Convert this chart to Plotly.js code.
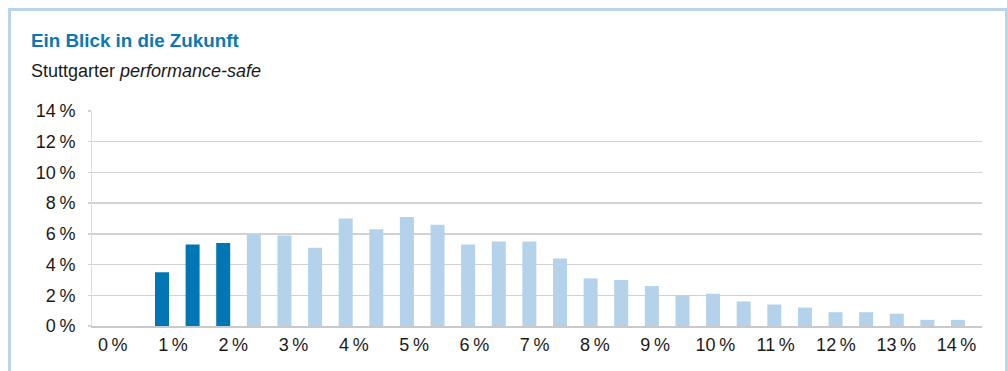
<!DOCTYPE html>
<html>
<head>
<meta charset="utf-8">
<script src="https://cdn.plot.ly/plotly-3.0.1.min.js"></script>
<style>
  html, body { margin: 0; padding: 0; background: #ffffff; }
  #frame { position: absolute; left: 8px; top: 8px; width: 994px; height: 400px;
           border: 3px solid #b9d5eb; border-bottom: none; box-sizing: content-box; }
  #chart { position: absolute; left: 0; top: 0; width: 1007px; height: 371px; }
</style>
</head>
<body>
<div id="frame"></div>
<div id="chart"></div>
<script>
// Return buckets (in %) for each bar
const buckets = [1, 1.5, 2, 2.5, 3, 3.5, 4, 4.5, 5, 5.5, 6, 6.5, 7, 7.5, 8, 8.5, 9, 9.5, 10, 10.5, 11, 11.5, 12, 12.5, 13, 13.5, 14];
// Probability of each bucket (in %)
const shares = [3.5, 5.3, 5.4, 6.0, 5.9, 5.1, 7.0, 6.3, 7.1, 6.6, 5.3, 5.5, 5.5, 4.4, 3.1, 3.0, 2.6, 2.0, 2.1, 1.6, 1.4, 1.2, 0.9, 0.9, 0.8, 0.4, 0.4];
// Highlighted buckets (dark blue) count
const highlightCount = 3;
// Axis tick labels
const xTickVals = [0, 1, 2, 3, 4, 5, 6, 7, 8, 9, 10, 11, 12, 13, 14];
const xTickText = xTickVals.map(v => v + '\u2009%');
const yTickVals = [0, 2, 4, 6, 8, 10, 12, 14];
const yTickText = yTickVals.map(v => v + '\u2009%');

const DARK = '#0076b5';
const LIGHT = '#b4d2ea';
const colors = shares.map((_, i) => i < highlightCount ? DARK : LIGHT);

const FONT = 'Liberation Sans, Arial, Helvetica, sans-serif';

const trace = {
  type: 'bar',
  x: buckets,
  y: shares,
  marker: { color: colors, line: { width: 0 } },
  hoverinfo: 'skip',
  xaxis: 'x',
  yaxis: 'y'
};

// invisible helper trace so the label axis is drawn
const labelTrace = {
  type: 'scatter',
  mode: 'markers',
  x: xTickVals,
  y: xTickVals.map(() => 0),
  marker: { opacity: 0, size: 1 },
  hoverinfo: 'skip',
  xaxis: 'x2',
  yaxis: 'y'
};

const layout = {
  width: 1007,
  height: 371,
  margin: { l: 92, r: 25, t: 111, b: 45 },
  paper_bgcolor: 'rgba(0,0,0,0)',
  plot_bgcolor: 'rgba(0,0,0,0)',
  showlegend: false,
  bargap: 0.543,
  font: { family: FONT, size: 18, color: '#1a1a1a' },
  xaxis: {
    type: 'linear',
    range: [-0.143, 14.392],
    showticklabels: false,
    ticks: '',
    showgrid: false,
    zeroline: false,
    showline: true,
    linecolor: '#c9c9c9',
    linewidth: 1.5,
    fixedrange: true
  },
  xaxis2: {
    type: 'linear',
    overlaying: 'x',
    anchor: 'y',
    side: 'bottom',
    range: [-0.345, 14.424],
    tickmode: 'array',
    tickvals: xTickVals,
    ticktext: xTickText,
    ticks: '',
    showgrid: false,
    zeroline: false,
    showline: false,
    ticklabelstandoff: 6,
    tickfont: { family: FONT, size: 18, color: '#1a1a1a' },
    fixedrange: true
  },
  yaxis: {
    range: [0, 14],
    tickmode: 'array',
    tickvals: yTickVals,
    ticktext: yTickText,
    showgrid: true,
    gridcolor: '#d2d2d2',
    gridwidth: 1.5,
    zeroline: false,
    showline: true,
    linecolor: '#dcdcdc',
    linewidth: 1,
    ticks: 'outside',
    ticklen: 3,
    tickcolor: '#d2d2d2',
    tickwidth: 1.5,
    ticklabelstandoff: 9,
    tickfont: { family: FONT, size: 18, color: '#1a1a1a' },
    fixedrange: true
  },
  annotations: [
    {
      text: '<b>Ein Blick in die Zukunft</b>',
      xref: 'paper', yref: 'paper',
      x: -0.0708, y: 1 + (111 - 41) / 215,
      xanchor: 'left', yanchor: 'middle',
      showarrow: false,
      font: { family: FONT, size: 18.8, color: '#0a78b5' }
    },
    {
      text: 'Stuttgarter <i>performance-safe</i>',
      xref: 'paper', yref: 'paper',
      x: -0.0708, y: 1 + (111 - 70.5) / 215,
      xanchor: 'left', yanchor: 'middle',
      showarrow: false,
      font: { family: FONT, size: 18, color: '#1a1a1a' }
    }
  ]
};

Plotly.newPlot('chart', [trace, labelTrace], layout, { displayModeBar: false, staticPlot: true });
</script>
</body>
</html>
